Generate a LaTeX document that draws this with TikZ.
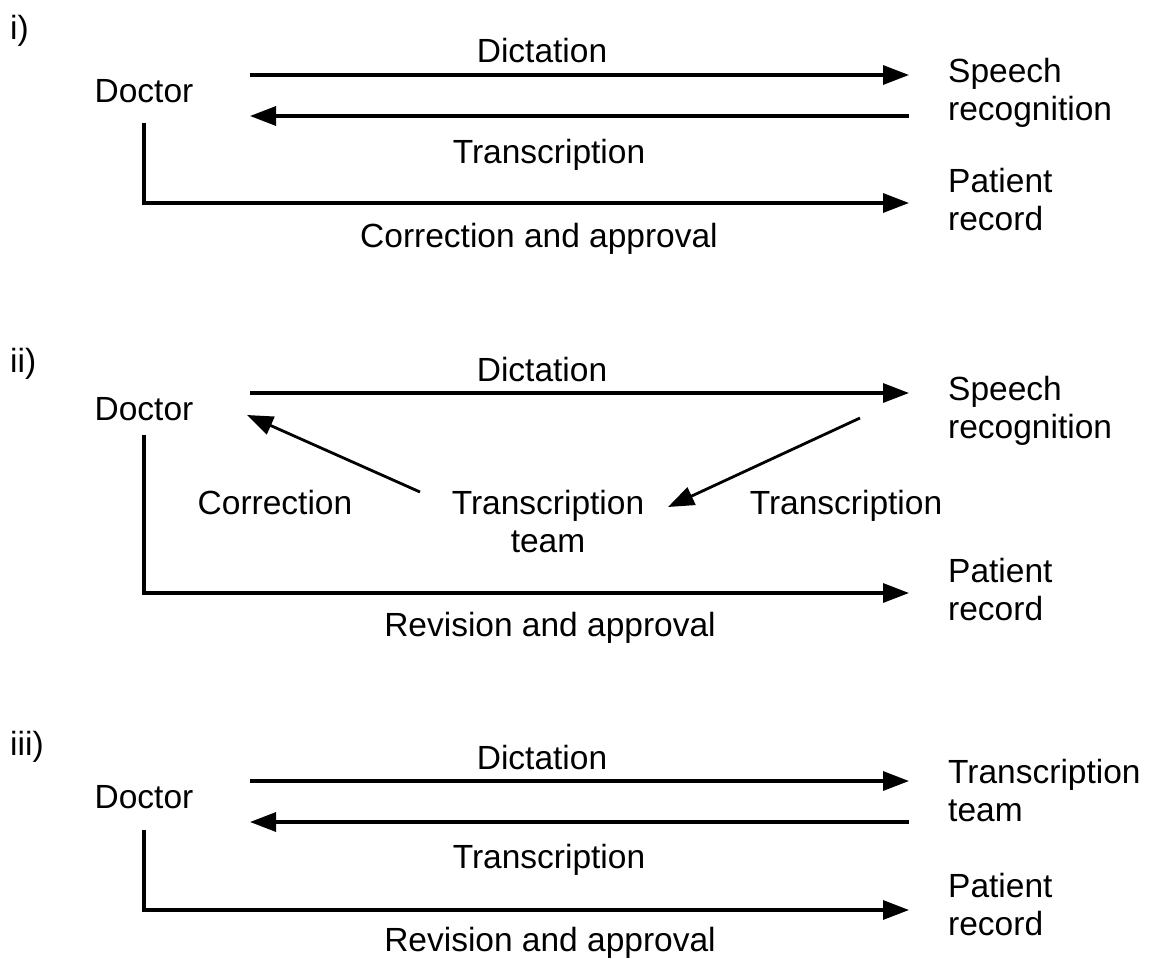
\documentclass[tikz,border=0pt]{standalone}
\usepackage{fontspec}
\setmainfont{Liberation Sans}
\usetikzlibrary{arrows.meta}

\tikzset{
  txt/.style={inner sep=0pt, font=\fontsize{33.5}{38}\selectfont},
  blk/.style={txt, align=left, anchor=north west},
  arr/.style={line width=3.2pt, -{Triangle[length=26pt,width=19pt]}},
  ln/.style={line width=3.2pt}
}

\begin{document}
\begin{tikzpicture}[x=1pt,y=-1pt]
\useasboundingbox (0,0) rectangle (1153,958);

% i)
\node[txt,anchor=base west] (lab1) at (10,40) {i)};
\node[txt,anchor=base] (doc1) at (144,102) {Doctor};
\node[blk] (sr1) at (948,58) {Speech\\recognition};
\node[blk] (pr1) at (948,168) {Patient\\record};
\coordinate (d1a) at (250,75);  \coordinate (d1b) at (909,75);
\coordinate (t1a) at (909,116); \coordinate (t1b) at (250,116);
\coordinate (c1a) at (144,123); \coordinate (c1b) at (144,203); \coordinate (c1c) at (909,203);
\draw[arr] (d1a) -- (d1b);
\draw[arr] (t1a) -- (t1b);
\draw[arr] (c1a) -- (c1b) -- (c1c);
\node[txt,anchor=base] (dict1) at (542,63) {Dictation};
\node[txt,anchor=base] (trans1) at (549,163) {Transcription};
\node[txt,anchor=base] (corr1) at (539,247) {Correction and approval};

% ii)
\node[txt,anchor=base west] (lab2) at (10,372) {ii)};
\node[txt,anchor=base] (doc2) at (144,420) {Doctor};
\node[blk] (sr2) at (948,376) {Speech\\recognition};
\node[blk] (pr2) at (948,558) {Patient\\record};
\node[txt,align=center,anchor=north] (tt2) at (548,490) {Transcription\\team};
\coordinate (d2a) at (250,393); \coordinate (d2b) at (909,393);
\coordinate (s2a) at (860,418); \coordinate (s2b) at (668,507);
\coordinate (k2a) at (420,492); \coordinate (k2b) at (247,415);
\coordinate (c2a) at (144,435); \coordinate (c2b) at (144,593); \coordinate (c2c) at (909,593);
\draw[arr] (d2a) -- (d2b);
\draw[arr,line width=2.8pt] (s2a) -- (s2b);
\draw[arr,line width=2.8pt] (k2a) -- (k2b);
\draw[arr] (c2a) -- (c2b) -- (c2c);
\node[txt,anchor=base] (dict2) at (542,381) {Dictation};
\node[txt,anchor=base] (corr2) at (275,514) {Correction};
\node[txt,anchor=base] (trans2) at (846,514) {Transcription};
\node[txt,anchor=base] (rev2) at (550,636) {Revision and approval};

% iii)
\node[txt,anchor=base west] (lab3) at (10,755) {iii)};
\node[txt,anchor=base] (doc3) at (144,808) {Doctor};
\node[blk] (tt3) at (948,759) {Transcription\\team};
\node[blk] (pr3) at (948,873) {Patient\\record};
\coordinate (d3a) at (250,781); \coordinate (d3b) at (909,781);
\coordinate (t3a) at (909,822); \coordinate (t3b) at (250,822);
\coordinate (c3a) at (144,830); \coordinate (c3b) at (144,910); \coordinate (c3c) at (909,910);
\draw[arr] (d3a) -- (d3b);
\draw[arr] (t3a) -- (t3b);
\draw[arr] (c3a) -- (c3b) -- (c3c);
\node[txt,anchor=base] (dict3) at (542,769) {Dictation};
\node[txt,anchor=base] (trans3) at (549,868) {Transcription};
\node[txt,anchor=base] (rev3) at (550,951) {Revision and approval};
\end{tikzpicture}
\end{document}
